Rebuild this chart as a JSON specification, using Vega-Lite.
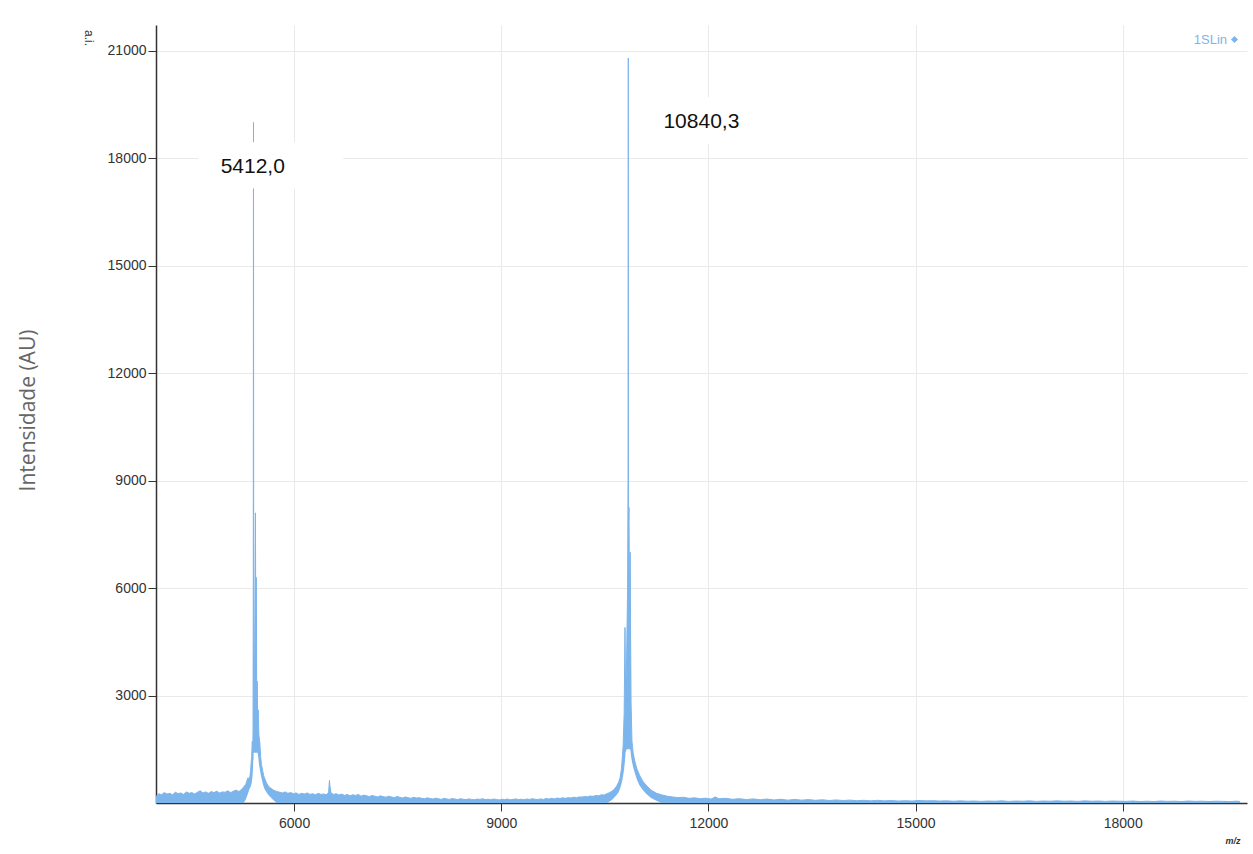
{
  "$schema": "https://vega.github.io/schema/vega-lite/v6.json",
  "autosize": {"type": "none"},
  "padding": {"left": 156, "top": 25, "right": 6, "bottom": 51},
  "width": 1091,
  "height": 778,
  "background": "white",
  "title": {"text": "a.i.", "anchor": "start", "orient": "top", "frame": "group", "angle": 90, "fontSize": 12, "fontWeight": "normal", "color": "#333", "font": "Liberation Sans", "dx": 21, "dy": 62, "offset": 0},
  "config": {
    "view": {"stroke": null},
    "axis": {"labelFont": "Liberation Sans", "labelFontSize": 14, "labelColor": "#333", "gridColor": "#e9e9e9", "gridWidth": 1, "domainColor": "#333", "domainWidth": 1.5, "tickColor": "#333", "tickSize": 8}
  },
  "datasets": {
    "spectrum": [
      {"mz": 4000, "hi": 180, "lo": 0}, {"mz": 4040, "hi": 260, "lo": 0}, {"mz": 4080, "hi": 230, "lo": 0}, {"mz": 4120, "hi": 290, "lo": 0}, {"mz": 4160, "hi": 250, "lo": 0}, {"mz": 4200, "hi": 270, "lo": 0}, {"mz": 4240, "hi": 230, "lo": 0}, {"mz": 4280, "hi": 300, "lo": 0}, {"mz": 4320, "hi": 260, "lo": 0}, {"mz": 4360, "hi": 280, "lo": 0}, {"mz": 4400, "hi": 240, "lo": 0}, {"mz": 4440, "hi": 310, "lo": 0}, {"mz": 4480, "hi": 270, "lo": 0}, {"mz": 4520, "hi": 290, "lo": 0}, {"mz": 4560, "hi": 250, "lo": 0}, {"mz": 4600, "hi": 300, "lo": 0}, {"mz": 4640, "hi": 340, "lo": 0}, {"mz": 4680, "hi": 280, "lo": 0}, {"mz": 4720, "hi": 310, "lo": 0}, {"mz": 4760, "hi": 270, "lo": 0}, {"mz": 4800, "hi": 320, "lo": 0}, {"mz": 4840, "hi": 290, "lo": 0}, {"mz": 4880, "hi": 330, "lo": 0}, {"mz": 4920, "hi": 280, "lo": 0}, {"mz": 4960, "hi": 310, "lo": 0}, {"mz": 5000, "hi": 300, "lo": 0}, {"mz": 5040, "hi": 340, "lo": 0}, {"mz": 5080, "hi": 290, "lo": 0}, {"mz": 5120, "hi": 330, "lo": 0}, {"mz": 5160, "hi": 360, "lo": 0}, {"mz": 5200, "hi": 320, "lo": 0}, {"mz": 5240, "hi": 380, "lo": 0},
      {"mz": 5270, "hi": 450, "lo": 0}, {"mz": 5300, "hi": 520, "lo": 100}, {"mz": 5330, "hi": 700, "lo": 250}, {"mz": 5355, "hi": 680, "lo": 400}, {"mz": 5370, "hi": 900, "lo": 450}, {"mz": 5385, "hi": 1300, "lo": 550}, {"mz": 5395, "hi": 1720, "lo": 700}, {"mz": 5400, "hi": 1200, "lo": 800}, {"mz": 5405, "hi": 2000, "lo": 1000}, {"mz": 5409, "hi": 6000, "lo": 1200}, {"mz": 5412, "hi": 19000, "lo": 1400}, {"mz": 5415, "hi": 6500, "lo": 1400}, {"mz": 5420, "hi": 3000, "lo": 1400}, {"mz": 5430, "hi": 4500, "lo": 1400}, {"mz": 5440, "hi": 8100, "lo": 1400}, {"mz": 5447, "hi": 3500, "lo": 1400}, {"mz": 5452, "hi": 6300, "lo": 1400}, {"mz": 5460, "hi": 2600, "lo": 1400}, {"mz": 5465, "hi": 3400, "lo": 1400}, {"mz": 5472, "hi": 2400, "lo": 1400}, {"mz": 5480, "hi": 2600, "lo": 1300}, {"mz": 5490, "hi": 1900, "lo": 1100}, {"mz": 5503, "hi": 1700, "lo": 950}, {"mz": 5515, "hi": 1300, "lo": 800}, {"mz": 5527, "hi": 1075, "lo": 700}, {"mz": 5545, "hi": 900, "lo": 550}, {"mz": 5560, "hi": 760, "lo": 450}, {"mz": 5575, "hi": 680, "lo": 380}, {"mz": 5600, "hi": 560, "lo": 300}, {"mz": 5625, "hi": 480, "lo": 230}, {"mz": 5648, "hi": 430, "lo": 180}, {"mz": 5680, "hi": 390, "lo": 120}, {"mz": 5710, "hi": 350, "lo": 60}, {"mz": 5750, "hi": 320, "lo": 0}, {"mz": 5793, "hi": 300, "lo": 0},
      {"mz": 5830, "hi": 280, "lo": 0}, {"mz": 5870, "hi": 310, "lo": 0}, {"mz": 5910, "hi": 270, "lo": 0}, {"mz": 5950, "hi": 290, "lo": 0}, {"mz": 5990, "hi": 260, "lo": 0}, {"mz": 6030, "hi": 280, "lo": 0}, {"mz": 6070, "hi": 240, "lo": 0}, {"mz": 6110, "hi": 270, "lo": 0}, {"mz": 6150, "hi": 250, "lo": 0}, {"mz": 6190, "hi": 280, "lo": 0}, {"mz": 6230, "hi": 240, "lo": 0}, {"mz": 6270, "hi": 260, "lo": 0}, {"mz": 6310, "hi": 230, "lo": 0}, {"mz": 6350, "hi": 270, "lo": 0}, {"mz": 6390, "hi": 240, "lo": 0}, {"mz": 6430, "hi": 250, "lo": 0}, {"mz": 6470, "hi": 230, "lo": 0}, {"mz": 6500, "hi": 300, "lo": 0}, {"mz": 6512, "hi": 630, "lo": 0}, {"mz": 6520, "hi": 450, "lo": 0}, {"mz": 6535, "hi": 280, "lo": 0}, {"mz": 6570, "hi": 240, "lo": 0}, {"mz": 6610, "hi": 260, "lo": 0}, {"mz": 6650, "hi": 220, "lo": 0}, {"mz": 6690, "hi": 250, "lo": 0}, {"mz": 6730, "hi": 210, "lo": 0}, {"mz": 6770, "hi": 240, "lo": 0}, {"mz": 6810, "hi": 200, "lo": 0}, {"mz": 6850, "hi": 230, "lo": 0}, {"mz": 6890, "hi": 210, "lo": 0}, {"mz": 6930, "hi": 240, "lo": 0}, {"mz": 6970, "hi": 190, "lo": 0}, {"mz": 7010, "hi": 220, "lo": 0}, {"mz": 7050, "hi": 200, "lo": 0}, {"mz": 7090, "hi": 180, "lo": 0}, {"mz": 7130, "hi": 210, "lo": 0}, {"mz": 7170, "hi": 190, "lo": 0}, {"mz": 7210, "hi": 170, "lo": 0}, {"mz": 7250, "hi": 200, "lo": 0}, {"mz": 7290, "hi": 180, "lo": 0}, {"mz": 7330, "hi": 160, "lo": 0}, {"mz": 7370, "hi": 190, "lo": 0}, {"mz": 7410, "hi": 170, "lo": 0}, {"mz": 7450, "hi": 150, "lo": 0}, {"mz": 7490, "hi": 180, "lo": 0}, {"mz": 7530, "hi": 160, "lo": 0}, {"mz": 7570, "hi": 140, "lo": 0}, {"mz": 7610, "hi": 170, "lo": 0}, {"mz": 7650, "hi": 150, "lo": 0}, {"mz": 7690, "hi": 130, "lo": 0}, {"mz": 7730, "hi": 160, "lo": 0}, {"mz": 7770, "hi": 140, "lo": 0}, {"mz": 7810, "hi": 150, "lo": 0}, {"mz": 7850, "hi": 130, "lo": 0}, {"mz": 7890, "hi": 120, "lo": 0}, {"mz": 7930, "hi": 145, "lo": 0}, {"mz": 7970, "hi": 125, "lo": 0}, {"mz": 8010, "hi": 110, "lo": 0}, {"mz": 8050, "hi": 135, "lo": 0}, {"mz": 8090, "hi": 120, "lo": 0}, {"mz": 8130, "hi": 100, "lo": 0}, {"mz": 8170, "hi": 130, "lo": 0}, {"mz": 8210, "hi": 115, "lo": 0}, {"mz": 8250, "hi": 100, "lo": 0}, {"mz": 8290, "hi": 125, "lo": 0}, {"mz": 8330, "hi": 110, "lo": 0}, {"mz": 8370, "hi": 95, "lo": 0}, {"mz": 8410, "hi": 120, "lo": 0}, {"mz": 8450, "hi": 105, "lo": 0}, {"mz": 8490, "hi": 95, "lo": 0}, {"mz": 8530, "hi": 115, "lo": 0}, {"mz": 8570, "hi": 100, "lo": 0}, {"mz": 8610, "hi": 90, "lo": 0}, {"mz": 8650, "hi": 110, "lo": 0}, {"mz": 8690, "hi": 100, "lo": 0}, {"mz": 8730, "hi": 120, "lo": 0}, {"mz": 8770, "hi": 95, "lo": 0}, {"mz": 8810, "hi": 105, "lo": 0}, {"mz": 8850, "hi": 90, "lo": 0}, {"mz": 8890, "hi": 110, "lo": 0}, {"mz": 8930, "hi": 100, "lo": 0}, {"mz": 8970, "hi": 85, "lo": 0}, {"mz": 9010, "hi": 105, "lo": 0}, {"mz": 9050, "hi": 95, "lo": 0}, {"mz": 9090, "hi": 110, "lo": 0}, {"mz": 9130, "hi": 90, "lo": 0}, {"mz": 9170, "hi": 100, "lo": 0}, {"mz": 9210, "hi": 115, "lo": 0}, {"mz": 9250, "hi": 95, "lo": 0}, {"mz": 9290, "hi": 105, "lo": 0}, {"mz": 9330, "hi": 90, "lo": 0}, {"mz": 9370, "hi": 110, "lo": 0}, {"mz": 9410, "hi": 100, "lo": 0}, {"mz": 9450, "hi": 120, "lo": 0}, {"mz": 9490, "hi": 105, "lo": 0}, {"mz": 9530, "hi": 95, "lo": 0}, {"mz": 9570, "hi": 115, "lo": 0}, {"mz": 9610, "hi": 100, "lo": 0}, {"mz": 9650, "hi": 125, "lo": 0}, {"mz": 9690, "hi": 110, "lo": 0}, {"mz": 9730, "hi": 130, "lo": 0}, {"mz": 9770, "hi": 115, "lo": 0}, {"mz": 9810, "hi": 140, "lo": 0}, {"mz": 9850, "hi": 125, "lo": 0}, {"mz": 9890, "hi": 145, "lo": 0}, {"mz": 9930, "hi": 130, "lo": 0}, {"mz": 9970, "hi": 150, "lo": 0}, {"mz": 10010, "hi": 140, "lo": 0}, {"mz": 10050, "hi": 160, "lo": 0}, {"mz": 10090, "hi": 150, "lo": 0}, {"mz": 10130, "hi": 170, "lo": 0}, {"mz": 10170, "hi": 165, "lo": 0}, {"mz": 10210, "hi": 180, "lo": 0}, {"mz": 10250, "hi": 175, "lo": 0}, {"mz": 10290, "hi": 195, "lo": 0}, {"mz": 10330, "hi": 185, "lo": 0}, {"mz": 10370, "hi": 210, "lo": 0}, {"mz": 10410, "hi": 200, "lo": 0}, {"mz": 10450, "hi": 230, "lo": 0}, {"mz": 10490, "hi": 220, "lo": 0},
      {"mz": 10530, "hi": 260, "lo": 0}, {"mz": 10570, "hi": 290, "lo": 40}, {"mz": 10610, "hi": 340, "lo": 100}, {"mz": 10640, "hi": 390, "lo": 160}, {"mz": 10670, "hi": 470, "lo": 220}, {"mz": 10700, "hi": 580, "lo": 300}, {"mz": 10720, "hi": 700, "lo": 400}, {"mz": 10740, "hi": 950, "lo": 520}, {"mz": 10755, "hi": 1300, "lo": 650}, {"mz": 10765, "hi": 1600, "lo": 760}, {"mz": 10780, "hi": 2500, "lo": 950}, {"mz": 10792, "hi": 4900, "lo": 1200}, {"mz": 10800, "hi": 3000, "lo": 1400}, {"mz": 10815, "hi": 4000, "lo": 1500}, {"mz": 10830, "hi": 6000, "lo": 1500}, {"mz": 10836, "hi": 9000, "lo": 1500}, {"mz": 10840, "hi": 20800, "lo": 1500}, {"mz": 10844, "hi": 7900, "lo": 1500}, {"mz": 10850, "hi": 8250, "lo": 1500}, {"mz": 10857, "hi": 5500, "lo": 1500}, {"mz": 10862, "hi": 3400, "lo": 1500}, {"mz": 10867, "hi": 7000, "lo": 1500}, {"mz": 10872, "hi": 5000, "lo": 1450}, {"mz": 10880, "hi": 2800, "lo": 1300}, {"mz": 10893, "hi": 1730, "lo": 1150}, {"mz": 10910, "hi": 1400, "lo": 1000}, {"mz": 10932, "hi": 1185, "lo": 850}, {"mz": 10965, "hi": 950, "lo": 650}, {"mz": 11005, "hi": 770, "lo": 480}, {"mz": 11050, "hi": 610, "lo": 360}, {"mz": 11101, "hi": 490, "lo": 250}, {"mz": 11170, "hi": 360, "lo": 140}, {"mz": 11246, "hi": 275, "lo": 60}, {"mz": 11320, "hi": 230, "lo": 0}, {"mz": 11400, "hi": 190, "lo": 0},
      {"mz": 11480, "hi": 170, "lo": 0}, {"mz": 11560, "hi": 150, "lo": 0}, {"mz": 11640, "hi": 160, "lo": 0}, {"mz": 11720, "hi": 130, "lo": 0}, {"mz": 11800, "hi": 145, "lo": 0}, {"mz": 11880, "hi": 120, "lo": 0}, {"mz": 11960, "hi": 135, "lo": 0}, {"mz": 12040, "hi": 110, "lo": 0}, {"mz": 12100, "hi": 170, "lo": 0}, {"mz": 12150, "hi": 120, "lo": 0}, {"mz": 12250, "hi": 130, "lo": 0}, {"mz": 12350, "hi": 105, "lo": 0}, {"mz": 12450, "hi": 120, "lo": 0}, {"mz": 12550, "hi": 95, "lo": 0}, {"mz": 12650, "hi": 115, "lo": 0}, {"mz": 12750, "hi": 90, "lo": 0}, {"mz": 12850, "hi": 110, "lo": 0}, {"mz": 12950, "hi": 85, "lo": 0}, {"mz": 13050, "hi": 105, "lo": 0}, {"mz": 13150, "hi": 80, "lo": 0}, {"mz": 13250, "hi": 100, "lo": 0}, {"mz": 13350, "hi": 80, "lo": 0}, {"mz": 13450, "hi": 95, "lo": 0}, {"mz": 13550, "hi": 75, "lo": 0}, {"mz": 13650, "hi": 90, "lo": 0}, {"mz": 13750, "hi": 70, "lo": 0}, {"mz": 13850, "hi": 85, "lo": 0}, {"mz": 13950, "hi": 70, "lo": 0}, {"mz": 14050, "hi": 80, "lo": 0}, {"mz": 14150, "hi": 65, "lo": 0}, {"mz": 14250, "hi": 75, "lo": 0}, {"mz": 14350, "hi": 60, "lo": 0}, {"mz": 14450, "hi": 75, "lo": 0}, {"mz": 14550, "hi": 60, "lo": 0}, {"mz": 14650, "hi": 70, "lo": 0}, {"mz": 14750, "hi": 55, "lo": 0}, {"mz": 14850, "hi": 65, "lo": 0}, {"mz": 14950, "hi": 55, "lo": 0}, {"mz": 15050, "hi": 70, "lo": 0}, {"mz": 15150, "hi": 60, "lo": 0}, {"mz": 15250, "hi": 65, "lo": 0}, {"mz": 15350, "hi": 55, "lo": 0}, {"mz": 15450, "hi": 60, "lo": 0}, {"mz": 15550, "hi": 50, "lo": 0}, {"mz": 15650, "hi": 60, "lo": 0}, {"mz": 15750, "hi": 50, "lo": 0}, {"mz": 15850, "hi": 55, "lo": 0}, {"mz": 15950, "hi": 45, "lo": 0}, {"mz": 16050, "hi": 55, "lo": 0}, {"mz": 16150, "hi": 50, "lo": 0}, {"mz": 16250, "hi": 60, "lo": 0}, {"mz": 16350, "hi": 45, "lo": 0}, {"mz": 16450, "hi": 55, "lo": 0}, {"mz": 16550, "hi": 50, "lo": 0}, {"mz": 16650, "hi": 60, "lo": 0}, {"mz": 16750, "hi": 45, "lo": 0}, {"mz": 16850, "hi": 55, "lo": 0}, {"mz": 16950, "hi": 50, "lo": 0}, {"mz": 17050, "hi": 60, "lo": 0}, {"mz": 17150, "hi": 50, "lo": 0}, {"mz": 17250, "hi": 55, "lo": 0}, {"mz": 17350, "hi": 45, "lo": 0}, {"mz": 17450, "hi": 60, "lo": 0}, {"mz": 17550, "hi": 50, "lo": 0}, {"mz": 17650, "hi": 55, "lo": 0}, {"mz": 17750, "hi": 45, "lo": 0}, {"mz": 17850, "hi": 55, "lo": 0}, {"mz": 17950, "hi": 50, "lo": 0}, {"mz": 18050, "hi": 45, "lo": 0}, {"mz": 18150, "hi": 55, "lo": 0}, {"mz": 18250, "hi": 40, "lo": 0}, {"mz": 18350, "hi": 50, "lo": 0}, {"mz": 18450, "hi": 40, "lo": 0}, {"mz": 18550, "hi": 55, "lo": 0}, {"mz": 18650, "hi": 45, "lo": 0}, {"mz": 18750, "hi": 50, "lo": 0}, {"mz": 18850, "hi": 40, "lo": 0}, {"mz": 18950, "hi": 55, "lo": 0}, {"mz": 19050, "hi": 45, "lo": 0}, {"mz": 19150, "hi": 50, "lo": 0}, {"mz": 19250, "hi": 40, "lo": 0}, {"mz": 19350, "hi": 50, "lo": 0}, {"mz": 19450, "hi": 45, "lo": 0}, {"mz": 19550, "hi": 40, "lo": 0}, {"mz": 19650, "hi": 50, "lo": 0}, {"mz": 19700, "hi": 40, "lo": 0}
    ],
    "labels": [
      {"mz": 5401, "int": 17760, "label": "5412,0"},
      {"mz": 11898, "int": 19015, "label": "10840,3"}
    ]
  },
  "layer": [
    {
      "data": {"name": "spectrum"},
      "mark": {"type": "area", "opacity": 1, "line": {"strokeWidth": 1}},
      "encoding": {
        "x": {"field": "mz", "type": "quantitative", "scale": {"domain": [4000, 19800], "nice": false, "zero": false},
          "axis": {"values": [6000, 9000, 12000, 15000, 18000], "format": "d", "title": "m/z", "titleAnchor": "end", "titleAlign": "right", "titleX": 1084, "titleY": 37, "titleBaseline": "middle", "titleFontSize": 9, "titleFontStyle": "italic", "titleFontWeight": "bold", "titleColor": "#333", "titleFont": "Liberation Sans", "labelPadding": 5, "grid": true}},
        "y": {"field": "hi", "type": "quantitative", "scale": {"domain": [0, 21720], "nice": false},
          "axis": {"values": [3000, 6000, 9000, 12000, 15000, 18000, 21000], "format": "d", "title": "Intensidade (AU)", "titleFont": "Open Sans", "titleFontSize": 21, "titleFontWeight": "normal", "titleColor": "#666", "titleX": -128, "titleY": 385, "titleAlign": "center", "titleBaseline": "middle", "labelPadding": 2, "grid": true}},
        "y2": {"field": "lo"},
        "color": {"datum": "1SLin", "type": "nominal", "scale": {"range": ["#7cb5ec"]},
          "legend": {"title": null, "orient": "none", "legendX": 1072, "legendY": 8, "padding": 0, "symbolType": "diamond", "symbolSize": 50, "symbolFillColor": "#7cb5ec", "symbolStrokeWidth": 0, "labelAlign": "right", "labelOffset": -14, "labelFont": "Liberation Sans", "labelFontSize": 13, "labelColor": "#7cb5ec"}}
      }
    },
    {
      "data": {"name": "labels"},
      "mark": {"type": "point", "shape": "M -0.75 -0.34 L 1.25 -0.34 L 1.25 0.3 L -0.75 0.3 Z", "size": 21025, "filled": true, "color": "white", "opacity": 1, "strokeWidth": 0},
      "encoding": {
        "x": {"field": "mz", "type": "quantitative"},
        "y": {"field": "int", "type": "quantitative"}
      }
    },
    {
      "data": {"name": "labels"},
      "mark": {"type": "text", "font": "Liberation Sans", "fontSize": 21, "color": "#111", "align": "center", "baseline": "middle"},
      "encoding": {
        "x": {"field": "mz", "type": "quantitative"},
        "y": {"field": "int", "type": "quantitative"},
        "text": {"field": "label"}
      }
    }
  ]
}
